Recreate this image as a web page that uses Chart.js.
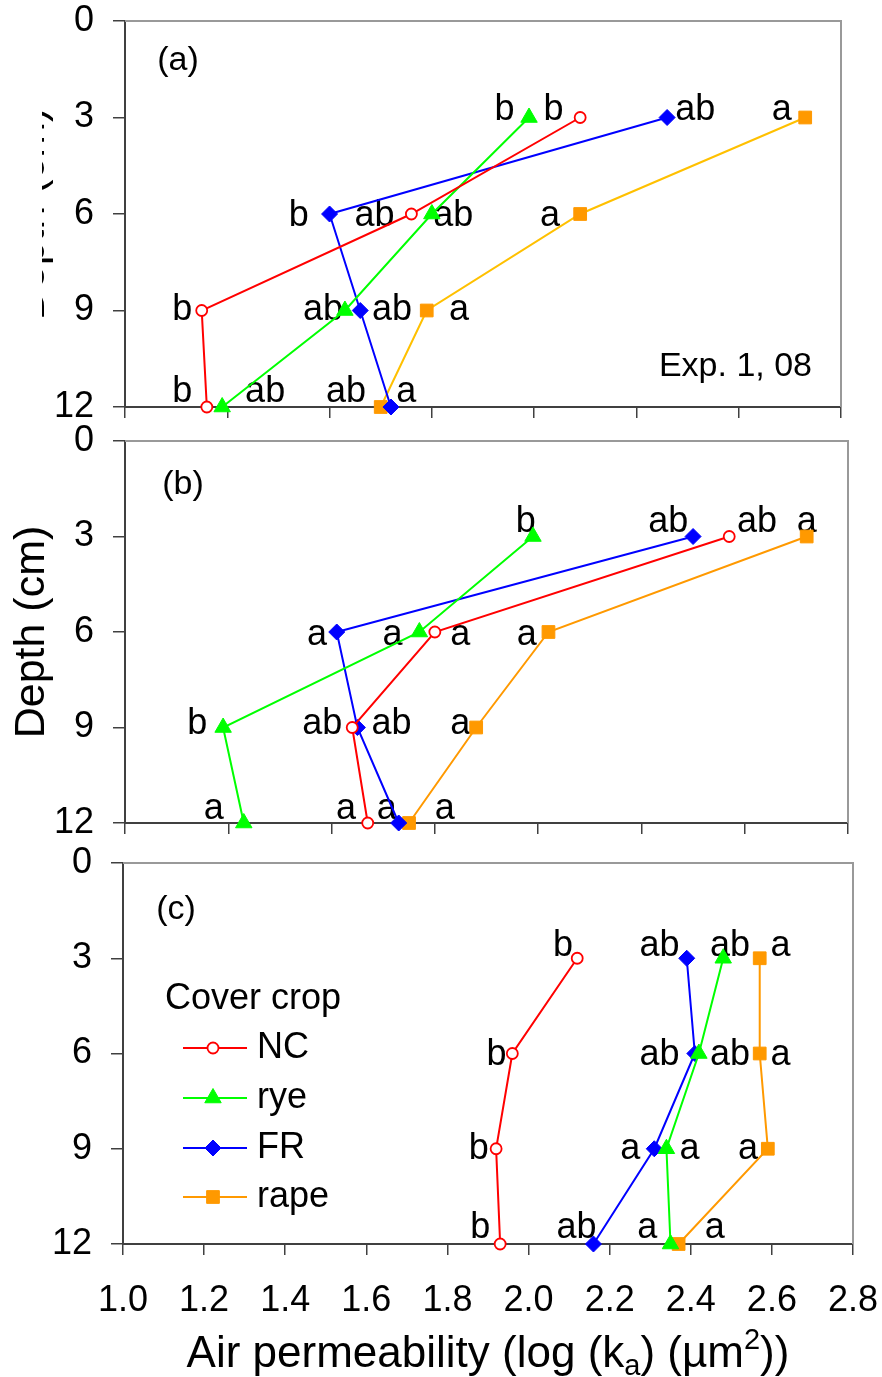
<!DOCTYPE html>
<html>
<head>
<meta charset="utf-8">
<script src="https://cdn.jsdelivr.net/npm/chart.js@4/dist/chart.umd.min.js"></script>
<style>
  body { margin: 0; background: #fff; width: 882px; height: 1377px; overflow: hidden; position: relative; }
  canvas { position: absolute; left: 0; }
</style>
</head>
<body>
<canvas id="chartA" width="882" height="440" style="top:0px"></canvas>
<canvas id="chartB" width="882" height="455" style="top:415px"></canvas>
<canvas id="chartC" width="882" height="542" style="top:835px"></canvas>
<script>
// Depths (cm) shared by every series
const depths = [3, 6, 9, 12];
const seriesNames = ['NC', 'rye', 'FR', 'rape'];

// Panel (a) - Exp. 1, 08 : log(ka) per depth
const ncA = [1.89, 1.56, 1.15, 1.16];
const ryeA = [1.79, 1.60, 1.43, 1.19];
const frA = [2.06, 1.40, 1.46, 1.52];
const rapeA = [2.33, 1.89, 1.59, 1.50];

// Panel (b)
const ncB = [2.17, 1.60, 1.44, 1.47];
const ryeB = [1.79, 1.57, 1.19, 1.23];
const frB = [2.10, 1.41, 1.45, 1.53];
const rapeB = [2.32, 1.82, 1.68, 1.55];

// Panel (c)
const ncC = [2.12, 1.96, 1.92, 1.93];
const ryeC = [2.48, 2.42, 2.34, 2.35];
const frC = [2.39, 2.41, 2.31, 2.16];
const rapeC = [2.57, 2.57, 2.59, 2.37];

// Significance letters (rows = depths), one array per series
const lettersA = [['b', 'ab', 'b', 'b'], ['b', 'ab', 'ab', 'ab'], ['ab', 'b', 'ab', 'a'], ['a', 'a', 'a', 'ab']];
const lettersB = [['ab', 'a', 'ab', 'a'], ['b', 'a', 'b', 'a'], ['ab', 'a', 'ab', 'a'], ['a', 'a', 'a', 'a']];
const lettersC = [['b', 'b', 'b', 'b'], ['ab', 'ab', 'a', 'a'], ['ab', 'ab', 'a', 'ab'], ['a', 'a', 'a', 'a']];

// Where each letter sits along the x axis (data units)
const letterXA = [[1.838, 1.488, 1.112, 1.112], [1.742, 1.642, 1.387, 1.274], [2.115, 1.340, 1.522, 1.550], [2.284, 1.831, 1.653, 1.432]];
const letterXB = [[2.224, 1.649, 1.382, 1.428], [1.776, 1.518, 1.140, 1.172], [2.052, 1.372, 1.516, 1.507], [2.320, 1.778, 1.649, 1.619]];
const letterXC = [[2.085, 1.921, 1.877, 1.881], [2.497, 2.497, 2.397, 2.293], [2.323, 2.323, 2.251, 2.118], [2.621, 2.621, 2.541, 2.459]];

// Depth at which the letters of each row are written
const letterDepthA = [2.78, 6.05, 9.0, 11.53];
const letterDepthB = [2.55, 6.1, 8.9, 11.56];
const letterDepthC = [2.62, 6.05, 9.0, 11.5];

const FONT = "'Liberation Sans', Arial, Helvetica, sans-serif";
Chart.defaults.font.family = FONT;
Chart.defaults.color = '#000';

const styles = [
    { line: '#FF0000', fill: '#FFFFFF', edge: '#FF0000', shape: 'circle', r: 5.5, bw: 1.8 },
    { line: '#00FF00', fill: '#00FF00', edge: '#00FF00', shape: 'triangle', r: 9.5, bw: 1 },
    { line: '#0000FF', fill: '#0000FF', edge: '#0000FF', shape: 'rectRot', r: 8, bw: 1 },
    { line: '#FF9900', fill: '#FF9900', edge: '#FF9900', shape: 'rect', r: 9, bw: 1 }
];

function makeDataset(i, values, lineColor) {
    const st = styles[i];
    return {
        label: seriesNames[i],
        data: values.map((v, k) => ({ x: v, y: depths[k] })),
        showLine: true,
        borderColor: lineColor || st.line,
        borderWidth: 2,
        pointStyle: st.shape,
        pointRadius: st.r,
        pointBackgroundColor: st.fill,
        pointBorderColor: st.edge,
        pointBorderWidth: st.bw,
        clip: false
    };
}

function drawYTitle(ctx, x, y) {
    ctx.save();
    ctx.translate(x, y);
    ctx.rotate(-Math.PI / 2);
    ctx.font = '43px ' + FONT;
    ctx.fillStyle = '#000';
    ctx.textAlign = 'center';
    ctx.textBaseline = 'alphabetic';
    ctx.fillText('Depth (cm)', 0, 0);
    ctx.restore();
}

function drawXTitle(ctx, cx, baseline) {
    // Air permeability (log (k_a) (µm^2))
    const parts = [
        { t: 'Air permeability (log (k', size: 44, dy: 0 },
        { t: 'a', size: 29, dy: 8 },
        { t: ') (\u00b5m', size: 44, dy: 0 },
        { t: '2', size: 29, dy: -18 },
        { t: '))', size: 44, dy: 0 }
    ];
    ctx.save();
    ctx.fillStyle = '#000';
    ctx.textBaseline = 'alphabetic';
    ctx.textAlign = 'left';
    let total = 0;
    parts.forEach(p => { ctx.font = p.size + 'px ' + FONT; p.w = ctx.measureText(p.t).width; total += p.w; });
    let x = cx - total / 2;
    parts.forEach(p => {
        ctx.font = p.size + 'px ' + FONT;
        ctx.fillText(p.t, x, baseline + p.dy);
        x += p.w;
    });
    ctx.restore();
}

// legend of panel (c); y values are relative to that canvas (page y - 835)
function drawLegend(ctx) {
    ctx.save();
    ctx.fillStyle = '#000';
    ctx.font = '36px ' + FONT;
    ctx.textAlign = 'left';
    ctx.textBaseline = 'middle';
    ctx.fillText('Cover crop', 165, 164);
    const rows = [213, 263, 313, 362];
    seriesNames.forEach((name, i) => {
        const st = styles[i];
        const y = rows[i];
        ctx.strokeStyle = st.line;
        ctx.lineWidth = 2;
        ctx.beginPath();
        ctx.moveTo(183, y);
        ctx.lineTo(247, y);
        ctx.stroke();
        if (Chart.helpers && Chart.helpers.drawPoint) {
            ctx.fillStyle = st.fill;
            ctx.strokeStyle = st.edge;
            ctx.lineWidth = st.bw;
            Chart.helpers.drawPoint(ctx, { pointStyle: st.shape, radius: st.r, borderWidth: st.bw, rotation: 0 }, 213, y);
        }
        ctx.fillStyle = '#000';
        ctx.fillText(name, 257, y);
    });
    ctx.restore();
}

function makeDecor(cfg) {
    return {
        id: 'decor',
        beforeDatasetsDraw(chart) {
            const ctx = chart.ctx;
            const a = chart.chartArea;
            const xs = chart.scales.x, ys = chart.scales.y;
            // grey top and right frame
            ctx.save();
            ctx.strokeStyle = '#999999';
            ctx.lineWidth = 2;
            ctx.beginPath();
            ctx.moveTo(a.left, a.top);
            ctx.lineTo(a.right, a.top);
            ctx.lineTo(a.right, a.bottom);
            ctx.stroke();

            // significance letters
            ctx.fillStyle = '#000';
            ctx.font = '36px ' + FONT;
            ctx.textAlign = 'center';
            ctx.textBaseline = 'middle';
            cfg.letters.forEach((row, s) => {
                row.forEach((txt, k) => {
                    ctx.fillText(txt, xs.getPixelForValue(cfg.letterX[s][k]), ys.getPixelForValue(cfg.letterDepth[k]));
                });
            });

            // panel tag
            ctx.font = '34px ' + FONT;
            ctx.fillText(cfg.tag, a.left + cfg.tagPos[0], a.top + cfg.tagPos[1]);
            if (cfg.note) {
                ctx.textAlign = 'right';
                ctx.fillText(cfg.note, a.right - 29, a.bottom - 40);
            }
            ctx.restore();
        },
        afterDraw(chart) {
            const ctx = chart.ctx;
            const a = chart.chartArea;
            const mid = (a.top + a.bottom) / 2;
            if (cfg.yTitle === 'full') {
                drawYTitle(ctx, 44, mid);
            } else if (cfg.yTitle === 'clip') {
                // only the lower edge of this title shows in the original figure
                ctx.save();
                ctx.beginPath();
                ctx.rect(42, 0, 20, chart.height);
                ctx.clip();
                drawYTitle(ctx, 44, mid);
                ctx.restore();
            }
            if (cfg.legend) drawLegend(ctx);
            if (cfg.xTitle) drawXTitle(ctx, (a.left + a.right) / 2, 1367 - 835);
        }
    };
}

function makePanel(id, sets, xMax, layout, showXLabels, cfg) {
    return new Chart(document.getElementById(id), {
        type: 'scatter',
        data: { datasets: sets },
        options: {
            responsive: false,
            animation: false,
            events: [],
            layout: { padding: { top: layout.top, right: layout.right, left: 0, bottom: 0 } },
            plugins: { legend: { display: false }, tooltip: { enabled: false } },
            scales: {
                x: {
                    type: 'linear',
                    min: 1.0,
                    max: xMax,
                    grid: { display: true, drawOnChartArea: false, drawTicks: true, tickLength: 11, color: '#404040', lineWidth: 1.5 },
                    border: { display: true, color: '#404040', width: 2 },
                    ticks: {
                        display: showXLabels,
                        stepSize: 0.2,
                        padding: 24,
                        font: { size: 36 },
                        color: '#000',
                        maxRotation: 0,
                        autoSkip: false,
                        callback: (v) => Number(v).toFixed(1)
                    },
                    afterFit: (s) => { s.height = layout.xHeight; s.paddingLeft = 0; s.paddingRight = 0; }
                },
                y: {
                    type: 'linear',
                    min: 0,
                    max: 12,
                    reverse: true,
                    grid: { display: true, drawOnChartArea: false, drawTicks: true, tickLength: 12, color: '#404040', lineWidth: 1.5 },
                    border: { display: true, color: '#404040', width: 2 },
                    ticks: { stepSize: 3, padding: 19, font: { size: 36 }, color: '#000' },
                    afterFit: (s) => { s.width = layout.yWidth; s.paddingTop = 0; s.paddingBottom = 0; }
                }
            }
        },
        plugins: [makeDecor(cfg)]
    });
}

makePanel('chartA',
    [makeDataset(0, ncA), makeDataset(1, ryeA), makeDataset(2, frA), makeDataset(3, rapeA, '#FFC000')],
    2.4, { top: 21, right: 41, xHeight: 33, yWidth: 125 }, false,
    { letters: lettersA, letterX: letterXA, letterDepth: letterDepthA, tag: '(a)', tagPos: [53, 40], note: 'Exp. 1, 08', yTitle: 'clip' });

makePanel('chartB',
    [makeDataset(0, ncB), makeDataset(1, ryeB), makeDataset(2, frB), makeDataset(3, rapeB)],
    2.4, { top: 26, right: 34, xHeight: 47, yWidth: 125 }, false,
    { letters: lettersB, letterX: letterXB, letterDepth: letterDepthB, tag: '(b)', tagPos: [58, 44], yTitle: 'full' });

makePanel('chartC',
    [makeDataset(0, ncC), makeDataset(1, ryeC), makeDataset(2, frC), makeDataset(3, rapeC)],
    2.8, { top: 28, right: 29, xHeight: 133, yWidth: 123 }, true,
    { letters: lettersC, letterX: letterXC, letterDepth: letterDepthC, tag: '(c)', tagPos: [53, 47], legend: true, xTitle: true });
</script>
</body>
</html>
